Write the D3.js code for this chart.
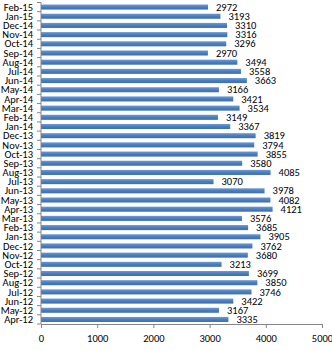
<!DOCTYPE html>
<html>
<head>
<meta charset="utf-8">
<script src="https://cdn.jsdelivr.net/npm/d3@7"></script>
<style>
  body { margin: 0; background: #fff; }
  svg text { font-family: Carlito, "Open Sans", "Liberation Sans", sans-serif; }
</style>
</head>
<body>
<div id="chart"></div>
<script>
const months = ['Apr-12', 'May-12', 'Jun-12', 'Jul-12', 'Aug-12', 'Sep-12', 'Oct-12', 'Nov-12', 'Dec-12',
  'Jan-13', 'Feb-13', 'Mar-13', 'Apr-13', 'May-13', 'Jun-13', 'Jul-13', 'Aug-13', 'Sep-13', 'Oct-13', 'Nov-13', 'Dec-13',
  'Jan-14', 'Feb-14', 'Mar-14', 'Apr-14', 'May-14', 'Jun-14', 'Jul-14', 'Aug-14', 'Sep-14', 'Oct-14', 'Nov-14', 'Dec-14',
  'Jan-15', 'Feb-15'];
const values = [3335, 3167, 3422, 3746, 3850, 3699, 3213, 3680, 3762,
  3905, 3685, 3576, 4121, 4082, 3978, 3070, 4085, 3580, 3855, 3794, 3819,
  3367, 3149, 3534, 3421, 3166, 3663, 3558, 3494, 2970, 3296, 3316, 3310,
  3193, 2972];
const xTicks = [0, 1000, 2000, 3000, 4000, 5000];

const width = 332, height = 351;
const margin = { top: 2.5, right: 10, bottom: 27, left: 41 };
const innerWidth = width - margin.left - margin.right;
const innerHeight = height - margin.top - margin.bottom;

const svg = d3.select('#chart').append('svg').attr('width', width).attr('height', height);
const defs = svg.append('defs');
const grad = defs.append('linearGradient').attr('id', 'barGrad')
  .attr('x1', 0).attr('y1', 0).attr('x2', 0).attr('y2', 1);
grad.append('stop').attr('offset', '0%').attr('stop-color', '#6f9ad3');
grad.append('stop').attr('offset', '50%').attr('stop-color', '#4a7dbf');
grad.append('stop').attr('offset', '100%').attr('stop-color', '#3d6fae');

const g = svg.append('g').attr('transform', `translate(${margin.left},${margin.top})`);

const x = d3.scaleLinear().domain([0, 5000]).range([0, 281]);
const y = d3.scaleBand().domain(months.slice().reverse()).range([0, innerHeight]).paddingInner(0.45).paddingOuter(0.22);

const data = months.map((m, i) => ({ month: m, value: values[i] }));

g.selectAll('rect.bar').data(data).join('rect')
  .attr('class', 'bar')
  .attr('x', 0)
  .attr('y', (d) => y(d.month))
  .attr('width', (d) => x(d.value))
  .attr('height', y.bandwidth())
  .attr('fill', 'url(#barGrad)');

g.selectAll('text.val').data(data).join('text')
  .attr('class', 'val')
  .attr('x', (d) => x(d.value) + 8)
  .attr('y', (d) => y(d.month) + y.bandwidth() / 2)
  .attr('dy', '0.35em')
  .attr('font-size', 10.5)
  .attr('fill', '#000')
  .text((d) => d.value);

// Category axis
const yAxis = g.append('g');
yAxis.append('line').attr('x1', 0).attr('x2', 0).attr('y1', 0).attr('y2', innerHeight)
  .attr('stroke', '#868686');
const boundaries = d3.range(months.length + 1).map((i) => i * innerHeight / months.length);
yAxis.selectAll('line.tick').data(boundaries).join('line')
  .attr('class', 'tick')
  .attr('x1', -4).attr('x2', 0)
  .attr('y1', (d) => d).attr('y2', (d) => d)
  .attr('stroke', '#868686');
yAxis.selectAll('text').data(months).join('text')
  .attr('x', -8)
  .attr('y', (d) => y(d) + y.bandwidth() / 2)
  .attr('dy', '0.35em')
  .attr('text-anchor', 'end')
  .attr('font-size', 10.5)
  .attr('fill', '#000')
  .text((d) => d);

// Value axis
const xAxis = g.append('g').attr('transform', `translate(0,${innerHeight})`)
  .call(d3.axisBottom(x).tickValues(xTicks).tickSize(4).tickSizeOuter(0).tickFormat(d3.format('d')));
xAxis.select('.domain').attr('stroke', '#868686');
xAxis.selectAll('.tick line').attr('stroke', '#868686');
xAxis.selectAll('.tick text').attr('font-size', 10.5).attr('fill', '#000').attr('dy', '1.0em')
  .style('font-family', 'Carlito, "Open Sans", "Liberation Sans", sans-serif');
</script>
</body>
</html>
